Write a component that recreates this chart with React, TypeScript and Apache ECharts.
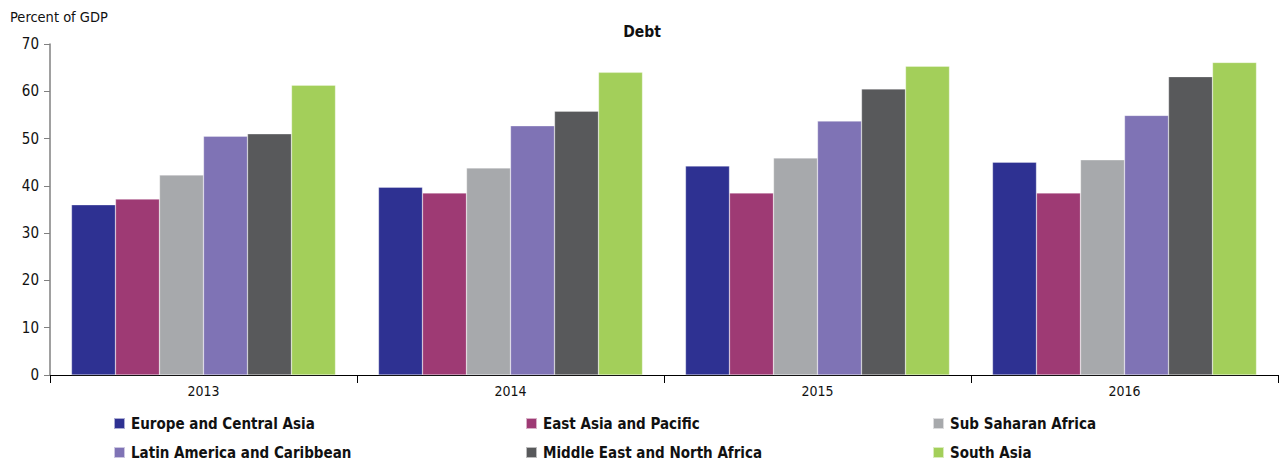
import React, { useEffect, useRef } from "react";
import * as echarts from "echarts";

const years = ["2013", "2014", "2015", "2016"];
const seriesNames = [
  "Europe and Central Asia",
  "East Asia and Pacific",
  "Sub Saharan Africa",
  "Latin America and Caribbean",
  "Middle East and North Africa",
  "South Asia",
];
const europeCentralAsia = [36.0, 39.7, 44.2, 45.0];
const eastAsiaPacific = [37.2, 38.5, 38.5, 38.5];
const subSaharanAfrica = [42.3, 43.8, 45.9, 45.5];
const latinAmerica = [50.5, 52.7, 53.7, 54.9];
const middleEastNorthAfrica = [51.0, 55.8, 60.5, 63.1];
const southAsia = [61.3, 64.0, 65.3, 66.1];
const seriesValues = [
  europeCentralAsia,
  eastAsiaPacific,
  subSaharanAfrica,
  latinAmerica,
  middleEastNorthAfrica,
  southAsia,
];
const colors = ["#2E3192", "#9E3A74", "#A7A9AC", "#7F73B5", "#58595B", "#A3CF5A"];

const FONT = "'Liberation Sans Narrow', 'DejaVu Sans Condensed', 'Roboto Condensed', sans-serif";

// legend slot positions (column left, row top) for the 6 series, in series order
const legendLefts = [113, 525, 932, 113, 525, 932];
const legendTops = [416, 416, 416, 445, 445, 445];

export default function App() {
  const ref = useRef<HTMLDivElement>(null);
  useEffect(() => {
    if (!ref.current) return;
    const chart = echarts.init(ref.current, undefined, { renderer: "svg" });
    chart.setOption({
      animation: false,
      title: {
        text: "Debt",
        left: 637,
        top: 19,
        textAlign: "center",
        textStyle: { fontFamily: FONT, fontSize: 15.5, fontWeight: "bold", color: "#111" },
      },
      graphic: [
        {
          type: "text",
          left: 10,
          top: 9,
          style: { text: "Percent of GDP", font: `14.5px ${FONT}`, fill: "#111" },
        },
      ],
      legend: seriesNames.map((name, i) => ({
        data: [name],
        left: legendLefts[i],
        top: legendTops[i],
        padding: 0,
        itemWidth: 11,
        itemHeight: 11,
        itemGap: 6,
        icon: "rect",
        selectedMode: false,
        textStyle: { fontFamily: FONT, fontSize: 15, fontWeight: "bold", color: "#111", padding: [0, 0, 0, 1] },
      })),
      grid: { left: 50, right: 2, top: 44, bottom: 88, containLabel: false },
      xAxis: {
        type: "category",
        data: years,
        axisLine: { lineStyle: { color: "#000", width: 1 } },
        axisTick: { show: true, length: 8, lineStyle: { color: "#000" } },
        axisLabel: { fontFamily: FONT, fontSize: 14, color: "#111", margin: 9 },
      },
      yAxis: {
        type: "value",
        min: 0,
        max: 70,
        interval: 10,
        splitLine: { show: false },
        axisLine: { show: true, lineStyle: { color: "#808080", width: 1.5 } },
        axisTick: { show: true, length: 6, lineStyle: { color: "#808080" } },
        axisLabel: { fontFamily: FONT, fontSize: 15, color: "#111", margin: 11 },
      },
      series: seriesNames.map((name, i) => ({
        name,
        type: "bar",
        data: seriesValues[i],
        barGap: "0%",
        barCategoryGap: "14%",
        itemStyle: { color: colors[i], borderColor: "rgba(255,255,255,0.6)", borderWidth: 0.5 },
      })),
    });
    return () => chart.dispose();
  }, []);
  return (
    <div
      ref={ref}
      style={{ position: "absolute", left: 0, top: 0, width: 1280, height: 463, background: "#fff" }}
    />
  );
}
